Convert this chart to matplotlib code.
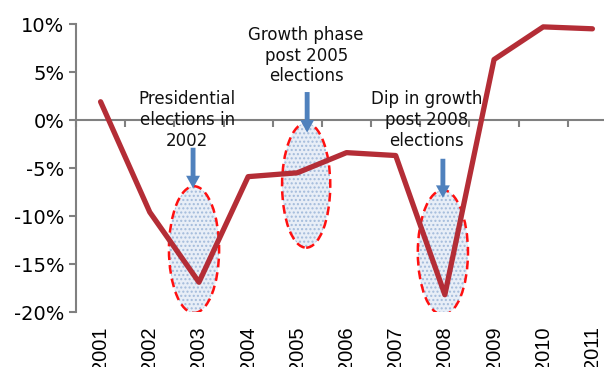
"""GDP growth line chart with election-period callouts."""

import matplotlib
matplotlib.use("Agg")
import matplotlib.pyplot as plt
import matplotlib.transforms as mtransforms
from matplotlib.patches import Ellipse
from matplotlib.ticker import FuncFormatter, MultipleLocator
import numpy as np

# ---------------------------------------------------------------------------
# Data
# ---------------------------------------------------------------------------

years = ["2001", "2002", "2003", "2004", "2005", "2006",
         "2007", "2008", "2009", "2010", "2011"]
growth = [1.9, -9.6, -16.9, -5.9, -5.5, -3.4, -3.7, -18.2, 6.3, 9.7, 9.5]

callout_text = ["Presidential\nelections in\n2002",
                "Growth phase\npost 2005\nelections",
                "Dip in growth\npost 2008\nelections"]

LINE_COLOR = "#B42D36"
ARROW_COLOR = "#4F81BD"
AXIS_COLOR = "#808080"

plt.rcParams["font.family"] = ["DejaVu Sans"]
plt.rcParams["hatch.linewidth"] = 1.0

fig = plt.figure(figsize=(6.04, 3.67), dpi=100)
ax = fig.add_axes([76 / 604, 55 / 367, 541 / 604, 288 / 367])
ax.set_xlim(-0.5, len(years) - 0.5)
ax.set_ylim(-20, 10)

x = np.arange(len(years))

# highlighted periods: (x centre, width, y bottom, y top)
ellipses = [(1.9, 1.02, -20.1, -6.9),
            (4.18, 0.98, -13.3, -0.3),
            (6.96, 1.02, -20.3, -7.3)]
for cx, w, y0, y1 in ellipses:
    centre = (cx, (y0 + y1) / 2)
    # stippled light-blue fill
    ax.add_patch(Ellipse(centre, w, y1 - y0, facecolor="#e8eef7",
                         edgecolor="#a3bbdb", linewidth=0, hatch="....",
                         zorder=2))
    # dashed red outline
    ax.add_patch(Ellipse(centre, w, y1 - y0, facecolor="none",
                         edgecolor="#FF1010", linestyle=(0, (3.5, 2)),
                         linewidth=1.8, zorder=2))

ax.plot(x, growth, color=LINE_COLOR, linewidth=3.8, solid_joinstyle="round",
        solid_capstyle="round", zorder=3)

# arrows pointing into each ellipse: (x, tail y, tip y)
arrows = [(1.88, -2.6, -7.4), (4.2, 3.2, -1.6), (6.96, -3.75, -8.4)]
for ax_x, y_tail, y_tip in arrows:
    ax.annotate("", xy=(ax_x, y_tip), xytext=(ax_x, y_tail),
                arrowprops=dict(arrowstyle="simple,head_length=0.9,head_width=1.0,tail_width=0.35",
                                color=ARROW_COLOR, lw=0),
                zorder=4)

# callout labels: (x centre, y centre)
label_pos = [(1.76, 0.0), (4.18, 6.7), (6.63, 0.0)]
for (tx, ty), txt in zip(label_pos, callout_text):
    ax.text(tx, ty, txt, ha="center", va="center", fontsize=12,
            linespacing=1.2, color="#111111", zorder=5)

# axes styling: horizontal category axis crosses at zero
for side in ("top", "right"):
    ax.spines[side].set_visible(False)
ax.spines["bottom"].set_position(("data", 0))
ax.spines["bottom"].set_color(AXIS_COLOR)
ax.spines["left"].set_color(AXIS_COLOR)
ax.spines["bottom"].set_linewidth(1.5)
ax.spines["left"].set_linewidth(1.5)

ax.yaxis.set_major_locator(MultipleLocator(5))
ax.yaxis.set_major_formatter(FuncFormatter(lambda v, _: f"{v:.0f}%"))
ax.tick_params(axis="y", colors=AXIS_COLOR, labelcolor="black",
               labelsize=14, length=5, width=1.5)

ax.set_xticks(np.arange(len(years) + 1) - 0.5)
ax.set_xticklabels([])
ax.tick_params(axis="x", colors=AXIS_COLOR, length=5, width=1.5)

# year labels sit below the plot area
trans = mtransforms.blended_transform_factory(ax.transData, ax.transAxes)
for xi, yr in zip(x, years):
    ax.text(xi, -0.05, yr, transform=trans, rotation=90, ha="center",
            va="top", fontsize=14.5, family="Liberation Sans")

fig.savefig("out.png", dpi=100)
